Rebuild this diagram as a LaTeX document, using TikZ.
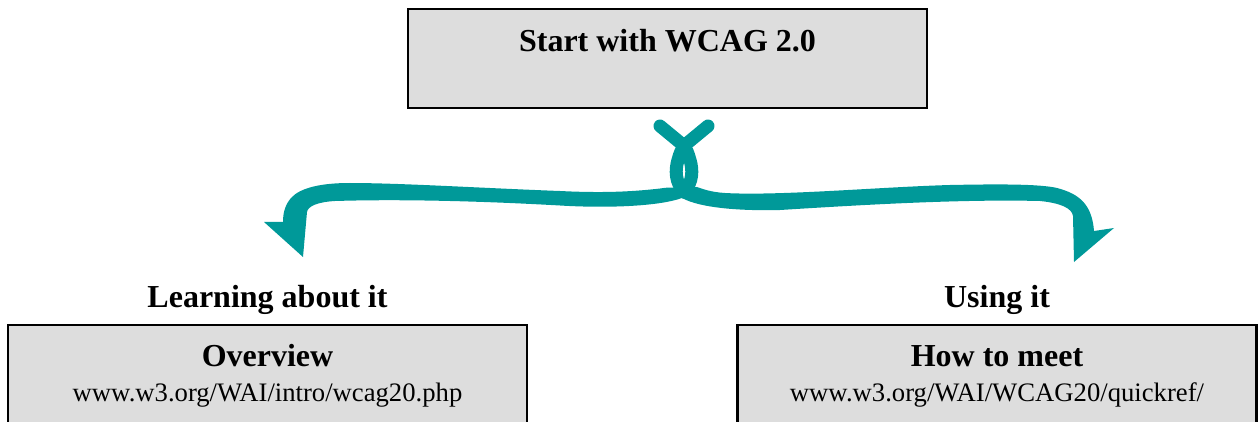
\documentclass[tikz,border=0pt]{standalone}
\usepackage{fontspec}
\setmainfont{Liberation Serif}
\definecolor{arrowteal}{RGB}{0,153,153}
\definecolor{boxgray}{RGB}{221,221,221}
\begin{document}
\begin{tikzpicture}[x=1pt,y=-1pt,
  box/.style={draw=black, line width=2.4pt, fill=boxgray, minimum width=519pt,
    minimum height=#1, inner sep=0pt},
  heading/.style={font=\fontsize{32}{38}\selectfont\bfseries, anchor=base, inner sep=0pt},
  url/.style={font=\fontsize{26.67}{32}\selectfont, anchor=base, inner sep=0pt},
  strand/.style={draw=arrowteal, line width=13pt, line cap=round},
  band/.style={fill=arrowteal}]
\useasboundingbox (0,0) rectangle (1258,422);
\clip (0,0) rectangle (1258,422);

% top box
\node[box=99pt] (start) at (667.5,58.5) {};
\node[heading] (starttxt) at (667.5,52) {Start with WCAG 2.0};

% left column
\node[heading] (learnlbl) at (267.5,307) {Learning about it};
\node[box=130pt] (overview) at (267.5,390) {};
\node[heading] (overviewtxt) at (267.5,366) {Overview};
\node[url] (overviewurl) at (267.5,401) {www.w3.org/WAI/intro/wcag20.php};

% right column
\node[heading] (usinglbl) at (997,307) {Using it};
\node[box=130pt] (howto) at (997,390) {};
\node[heading] (howtotxt) at (997,366) {How to meet};
\node[url] (howtourl) at (997,401) {www.w3.org/WAI/WCAG20/quickref/};

% twisted double arrow: left branch
\fill[band] (684,190) .. controls (676,187) and (670,187) .. (660,188.5)
  .. controls (630,192) and (600,193) .. (560,191)
  .. controls (480,188) and (400,183) .. (350,183)
  .. controls (320,183) and (300,188) .. (291,198)
  .. controls (285,205) and (283,213) .. (283,222)
  -- (264,222) -- (303,257) -- (307,212)
  .. controls (308,206) and (318,202) .. (335,201)
  .. controls (400,199) and (480,201) .. (560,205.5)
  .. controls (610,208.5) and (660,206) .. (682,198) -- cycle;

% right branch
\fill[band] (683,190) .. controls (688,187) and (692,187) .. (697,187)
  .. controls (703,189) and (710,192) .. (725,193)
  .. controls (780,196) and (880,187) .. (950,185)
  .. controls (1000,184) and (1040,184) .. (1057,188)
  .. controls (1080,194) and (1092,205) .. (1094,231)
  -- (1114,228) -- (1074,262) -- (1073,216)
  .. controls (1072,208) and (1060,203) .. (1040,201)
  .. controls (960,199) and (860,205) .. (780,210)
  .. controls (740,211) and (700,208) .. (682,198) -- cycle;

% the two crossing strands above the fork
\draw[strand] (660,126) -- (683,145)
  .. controls (687,150) and (688,153) .. (690,160)
  .. controls (693,170) and (693,182) .. (684,192);
\draw[strand] (708,126) -- (685,145)
  .. controls (681,150) and (680,153) .. (678,160)
  .. controls (675,170) and (675,182) .. (684,192);
\end{tikzpicture}
\end{document}
